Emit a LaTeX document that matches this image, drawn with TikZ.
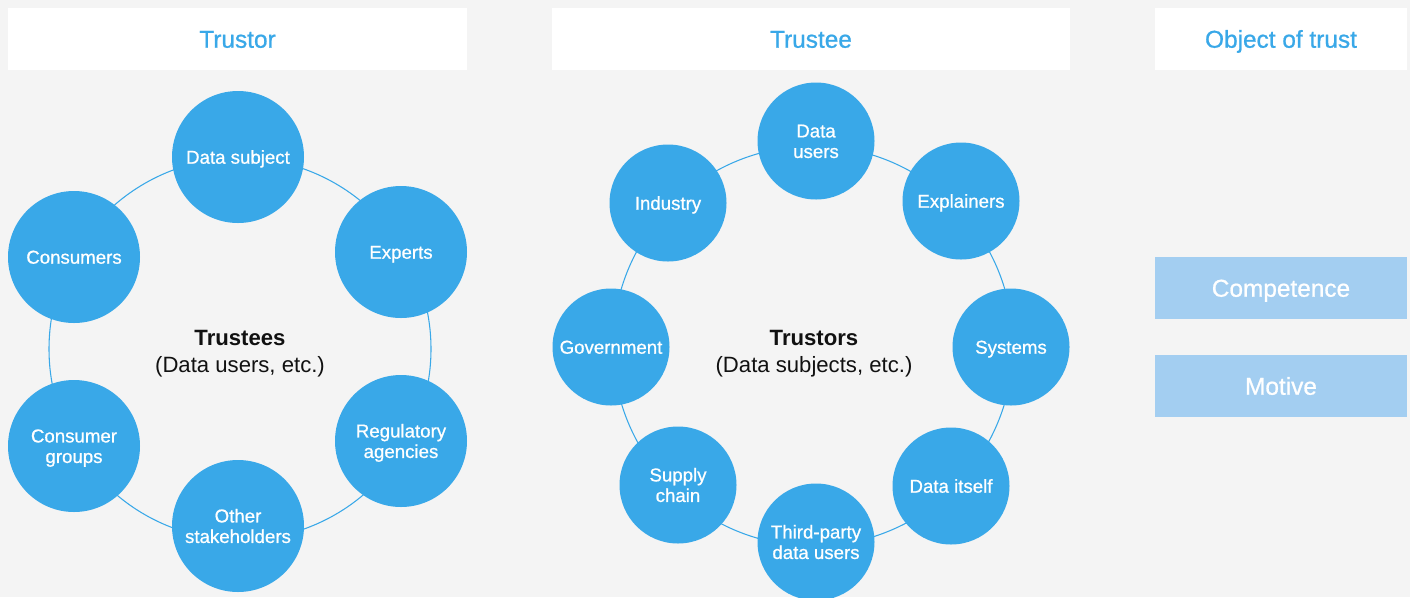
\documentclass[tikz,border=0pt]{standalone}
\usepackage{fontspec}
\setmainfont{Liberation Sans}
\newfontfamily\medfont[FakeBold=0.8]{Liberation Sans}
\definecolor{bg}{HTML}{F4F4F4}
\definecolor{cblue}{HTML}{39A8E8}
\definecolor{lblue}{HTML}{A3CEF1}
\definecolor{ink}{HTML}{111111}
\newcommand{\cl}[1]{\raisebox{0pt}[0.716em][0pt]{#1}}
\tikzset{
  hdr/.style={fill=white, draw=none, inner sep=0pt, text=cblue, text height=13.1pt, text depth=0pt,
     font=\medfont\fontsize{18.3pt}{20pt}\selectfont},
  objbox/.style={fill=lblue, draw=none, inner sep=0pt, text=white, text height=13.1pt, text depth=0pt,
     font=\medfont\fontsize{18.3pt}{20pt}\selectfont},
  bigdot/.style={circle, fill=cblue, draw=none, inner sep=0pt, minimum size=#1, text=white, align=center,
     font=\medfont\fontsize{14pt}{15.4pt}\selectfont},
  ring/.style={draw=cblue, line width=0.8pt},
  centertext/.style={align=center, text=ink, font=\fontsize{16.6pt}{20pt}\selectfont}
}
\begin{document}
\begin{tikzpicture}[x=0.75pt, y=-0.75pt]
\fill[bg] (0,0) rectangle (1410,597);
\useasboundingbox (0,0) rectangle (1410,597);
% headers
\node[hdr, minimum width=459*0.75pt, minimum height=62*0.75pt] (h1) at (237.5,39) {Trustor};
\node[hdr, minimum width=518*0.75pt, minimum height=62*0.75pt] (h2) at (811,39) {Trustee};
\node[hdr, minimum width=252*0.75pt, minimum height=62*0.75pt] (h3) at (1281,39) {Object of trust};
% object boxes
\node[objbox, minimum width=252*0.75pt, minimum height=62*0.75pt] (comp) at (1281,288) {Competence};
\node[objbox, minimum width=252*0.75pt, minimum height=62*0.75pt] (motive) at (1281,386) {Motive};
% left ring
\coordinate (lc) at (240,349);
\draw[ring] (lc) circle[radius=191*0.75pt];
\node[centertext] (trustees) at (240,354) {\textbf{Trustees}\\(Data users, etc.)};
\node[bigdot=132*0.75pt] (ds) at (238,157) {\cl{Data subject}};
\node[bigdot=132*0.75pt] (ex) at (401,252) {\cl{Experts}};
\node[bigdot=132*0.75pt] (ra) at (401,441) {\cl{Regulatory}\\\cl{agencies}};
\node[bigdot=132*0.75pt] (os) at (238,526) {\cl{Other}\\\cl{stakeholders}};
\node[bigdot=132*0.75pt] (cg) at (74,446) {\cl{Consumer}\\\cl{groups}};
\node[bigdot=132*0.75pt] (co) at (74,257) {\cl{Consumers}};
% right ring
\coordinate (rc) at (813,346);
\draw[ring] (rc) circle[radius=200*0.75pt];
\node[centertext] (trustors) at (814,354) {\textbf{Trustors}\\(Data subjects, etc.)};
\node[bigdot=117*0.75pt] (du) at (816,141) {\cl{Data}\\\cl{users}};
\node[bigdot=117*0.75pt] (expl) at (961,201) {\cl{Explainers}};
\node[bigdot=117*0.75pt] (sys) at (1011,347) {\cl{Systems}};
\node[bigdot=117*0.75pt] (di) at (951,486) {\cl{Data itself}};
\node[bigdot=117*0.75pt] (tp) at (816,542) {\cl{Third-party}\\\cl{data users}};
\node[bigdot=117*0.75pt] (sc) at (678,485) {\cl{Supply}\\\cl{chain}};
\node[bigdot=117*0.75pt] (gov) at (611,347) {\cl{Government}};
\node[bigdot=117*0.75pt] (ind) at (668,203) {\cl{Industry}};
\end{tikzpicture}
\end{document}
